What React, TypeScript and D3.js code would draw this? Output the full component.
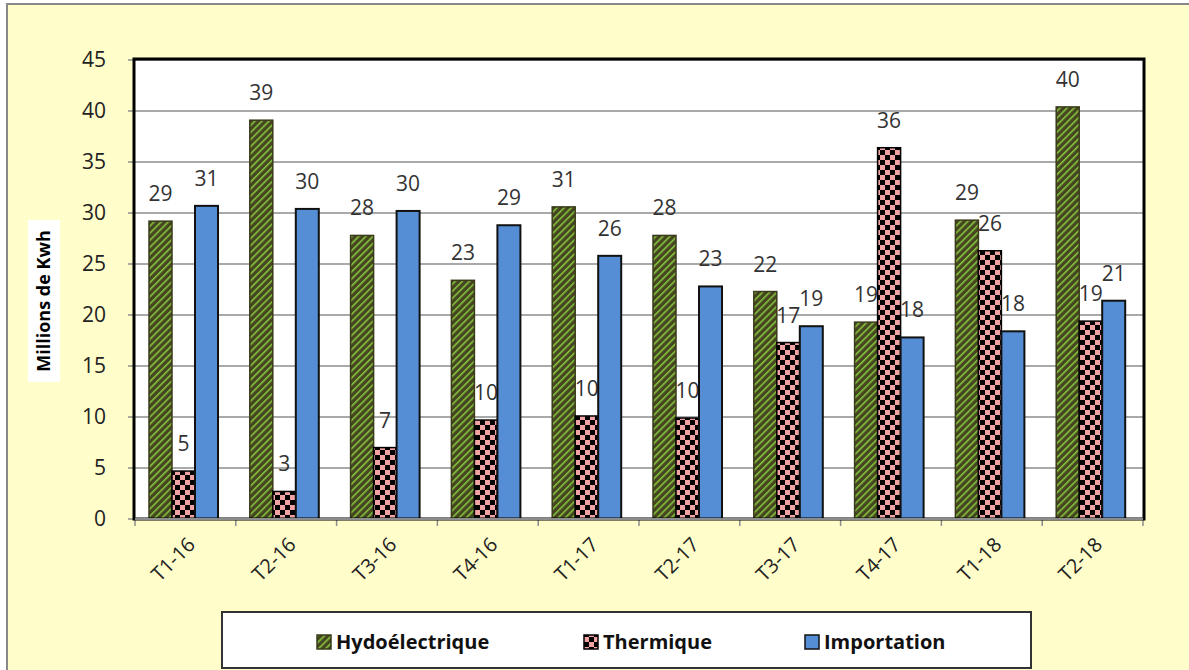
import { scaleBand, scaleLinear, range } from 'd3';

const categories = ['T1-16', 'T2-16', 'T3-16', 'T4-16', 'T1-17', 'T2-17', 'T3-17', 'T4-17', 'T1-18', 'T2-18'];
const hydro = [29.2, 39.1, 27.8, 23.4, 30.6, 27.8, 22.3, 19.3, 29.3, 40.4];
const thermique = [4.7, 2.7, 7.0, 9.7, 10.1, 9.9, 17.3, 36.4, 26.3, 19.4];
const importation = [30.7, 30.4, 30.2, 28.8, 25.8, 22.8, 18.9, 17.8, 18.4, 21.4];
const seriesNames = ['Hydoélectrique', 'Thermique', 'Importation'];
const yTicks = [0, 5, 10, 15, 20, 25, 30, 35, 40, 45];

const W = 1189;
const H = 670;
const plot = { left: 135, right: 1143, top: 60, bottom: 519 };
const font = '"Open Sans", Lato, sans-serif';

export default function App() {
  const x0 = scaleBand().domain(categories).range([plot.left, plot.right]).padding(0);
  const x1 = scaleBand().domain(seriesNames).range([14, 83]).padding(0);
  const y = scaleLinear().domain([0, 45]).range([plot.bottom, plot.top]);

  const series = [
    { name: seriesNames[0], values: hydro, fill: 'url(#hatch)', stroke: '#3a3a1a' },
    { name: seriesNames[1], values: thermique, fill: 'url(#checker)', stroke: '#000' },
    { name: seriesNames[2], values: importation, fill: '#558ed5', stroke: '#111' },
  ];

  const legendX = [317, 584, 805];

  return (
    <svg width={W} height={H} style={{ position: 'absolute', left: 0, top: 0 }} fontFamily={font}>
      <defs>
        <pattern id="hatch" width="5" height="5" patternUnits="userSpaceOnUse" patternTransform="rotate(45)">
          <rect width="5" height="5" fill="#45451f" />
          <rect x="0" width="1.6" height="5" fill="#86c441" />
        </pattern>
        <pattern id="checker" width="10" height="10" patternUnits="userSpaceOnUse">
          <rect width="10" height="10" fill="#f2a3a3" />
          <rect width="5" height="5" fill="#000" />
          <rect x="5" y="5" width="5" height="5" fill="#000" />
        </pattern>
      </defs>

      {/* outer panel */}
      <rect x={0} y={0} width={W} height={H} fill="#fff" />
      <rect x={7} y={4} width={W + 10} height={H + 10} fill="#fffdca" stroke="#888" strokeWidth={2} />

      {/* plot area */}
      <rect x={plot.left} y={plot.top} width={plot.right - plot.left} height={plot.bottom - plot.top} fill="#fff" />
      {yTicks.map((t) => (
        <g key={t}>
          <line x1={plot.left} x2={plot.right} y1={y(t)} y2={y(t)} stroke="#8c8c8c" strokeWidth={1.5} />
          <line x1={plot.left - 7} x2={plot.left} y1={y(t)} y2={y(t)} stroke="#8c8c8c" strokeWidth={1.5} />
          <text x={106} y={y(t)} dy="0.35em" textAnchor="end" fontSize={21} fill="#222">
            {t}
          </text>
        </g>
      ))}

      {/* bars + labels, series by series */}
      {series.map((s) => (
        <g key={s.name}>
          {s.values.map((v, i) => {
            const bx = (x0(categories[i]) ?? 0) + (x1(s.name) ?? 0);
            return (
              <rect
                key={i}
                x={bx}
                y={y(v)}
                width={x1.bandwidth()}
                height={plot.bottom - y(v)}
                fill={s.fill}
                stroke={s.stroke}
                strokeWidth={s.name === 'Importation' ? 2 : 1.5}
              />
            );
          })}
          {s.values.map((v, i) => {
            const cx = (x0(categories[i]) ?? 0) + (x1(s.name) ?? 0) + x1.bandwidth() / 2;
            return (
              <text key={'l' + i} x={cx} y={y(v) - 20} textAnchor="middle" fontSize={21} fill="#333">
                {Math.round(v)}
              </text>
            );
          })}
        </g>
      ))}

      {/* axes */}
      {range(categories.length + 1).map((i) => {
        const tx = plot.left + i * x0.step();
        return <line key={i} x1={tx} x2={tx} y1={plot.bottom} y2={plot.bottom + 7} stroke="#8c8c8c" strokeWidth={1.5} />;
      })}
      <rect
        x={plot.left - 1}
        y={plot.top - 1}
        width={plot.right - plot.left + 2}
        height={plot.bottom - plot.top + 1}
        fill="none"
        stroke="#000"
        strokeWidth={3}
      />
      <line x1={plot.left} x2={plot.right} y1={plot.bottom} y2={plot.bottom} stroke="#8c8c8c" strokeWidth={2} />

      {categories.map((c) => {
        const cx = (x0(c) ?? 0) + x0.bandwidth() / 2;
        return (
          <text
            key={c}
            transform={`translate(${cx + 6},${plot.bottom + 22}) rotate(-45)`}
            textAnchor="end"
            dy="0.35em"
            fontSize={20}
            fill="#222"
          >
            {c}
          </text>
        );
      })}

      {/* y title */}
      <rect x={28} y={220} width={32} height={162} fill="#fff" />
      <text transform="translate(50,301) rotate(-90)" textAnchor="middle" fontSize={18} fontWeight="bold" fill="#000">
        Millions de Kwh
      </text>

      {/* legend */}
      <rect x={222} y={612} width={809} height={56} fill="#fff" stroke="#333" strokeWidth={2} />
      {series.map((s, i) => (
        <g key={s.name} transform={`translate(${legendX[i]},642)`}>
          <rect x={0} y={-7} width={14} height={14} fill={s.fill} stroke={s.stroke} strokeWidth={1.5} />
          <text x={19} dy="0.35em" fontSize={20} fontWeight="bold" fill="#111">
            {s.name}
          </text>
        </g>
      ))}
    </svg>
  );
}
